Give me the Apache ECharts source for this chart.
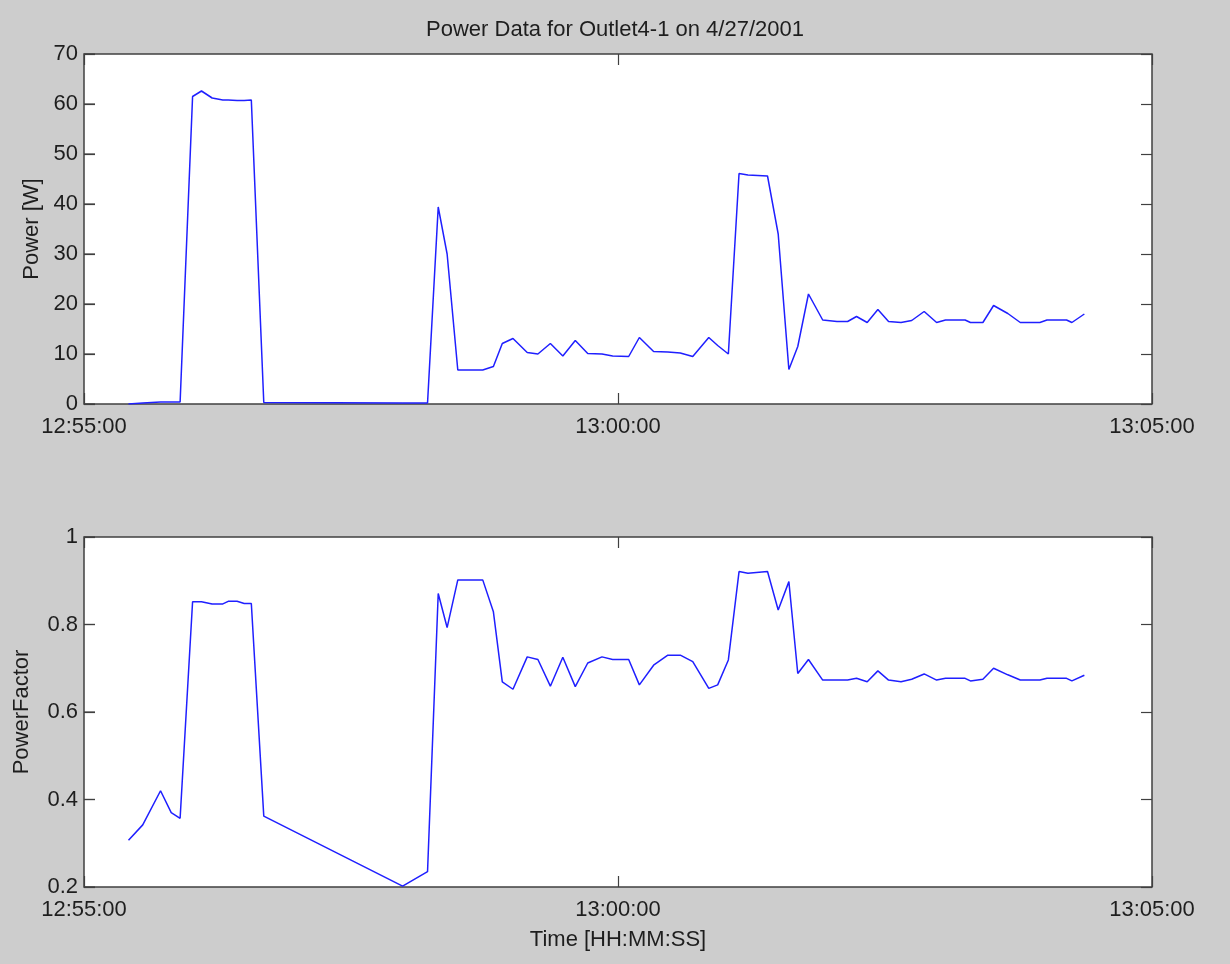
<!DOCTYPE html>
<html>
<head>
<meta charset="utf-8">
<script src="https://cdn.jsdelivr.net/npm/echarts@6/dist/echarts.min.js"></script>
<style>
html,body{margin:0;padding:0;background:#cdcdcd;}
#chart{width:1230px;height:964px;}
</style>
</head>
<body>
<div id="chart"></div>
<script>
// ---- data ----
const titleText = 'Power Data for Outlet4-1 on 4/27/2001';
const xTickLabels = ['12:55:00', '13:00:00', '13:05:00'];
const times = [
 '12:55:25','12:55:33','12:55:43','12:55:49','12:55:54','12:56:01','12:56:06','12:56:12','12:56:18','12:56:21',
 '12:56:26','12:56:30','12:56:34','12:56:41','12:57:59','12:58:13','12:58:19','12:58:24','12:58:30','12:58:44',
 '12:58:50','12:58:55','12:59:01','12:59:09','12:59:15','12:59:22','12:59:29','12:59:36','12:59:43','12:59:51',
 '12:59:57','13:00:06','13:00:12','13:00:20','13:00:28','13:00:35','13:00:42','13:00:51','13:00:56','13:01:02',
 '13:01:08','13:01:13','13:01:24','13:01:30','13:01:36','13:01:41','13:01:47','13:01:55','13:02:03','13:02:09',
 '13:02:14','13:02:20','13:02:26','13:02:32','13:02:39','13:02:45','13:02:52','13:02:59','13:03:04','13:03:15',
 '13:03:18','13:03:25','13:03:31','13:03:39','13:03:46','13:03:57','13:04:01','13:04:12','13:04:15','13:04:22'
];
const power = [
 0, 0.2, 0.4, 0.4, 0.4, 61.5, 62.6, 61.2, 60.8, 60.8,
 60.7, 60.7, 60.8, 0.3, 0.2, 0.2, 39.4, 30, 6.8, 6.8,
 7.5, 12.1, 13.1, 10.3, 10, 12.1, 9.6, 12.7, 10.1, 10,
 9.6, 9.5, 13.3, 10.5, 10.4, 10.2, 9.5, 13.3, 11.7, 10,
 46.1, 45.8, 45.6, 34, 6.9, 11.5, 22, 16.8, 16.5, 16.5,
 17.5, 16.3, 18.9, 16.5, 16.3, 16.7, 18.5, 16.3, 16.8, 16.8,
 16.3, 16.3, 19.7, 18.1, 16.3, 16.3, 16.8, 16.8, 16.3, 18
];
const powerFactor = [
 0.307, 0.342, 0.42, 0.37, 0.357, 0.852, 0.852, 0.847, 0.847, 0.853,
 0.853, 0.848, 0.848, 0.362, 0.202, 0.235, 0.871, 0.793, 0.902, 0.902,
 0.829, 0.669, 0.652, 0.726, 0.72, 0.659, 0.725, 0.658, 0.712, 0.726,
 0.72, 0.72, 0.662, 0.707, 0.73, 0.73, 0.715, 0.654, 0.662, 0.719,
 0.921, 0.917, 0.921, 0.833, 0.898, 0.688, 0.72, 0.673, 0.673, 0.673,
 0.677, 0.669, 0.694, 0.673, 0.669, 0.675, 0.687, 0.673, 0.677, 0.677,
 0.671, 0.675, 0.70, 0.685, 0.673, 0.673, 0.677, 0.677, 0.671, 0.684
];
const powerTicks = [0, 10, 20, 30, 40, 50, 60, 70];
const pfTicks = [0.2, 0.4, 0.6, 0.8, 1];

// ---- helpers ----
function toSec(t) {
  const p = t.split(':').map(Number);
  const b = xTickLabels[0].split(':').map(Number);
  return (p[0]*3600 + p[1]*60 + p[2]) - (b[0]*3600 + b[1]*60 + b[2]);
}
const xs = times.map(toSec);
const powerData = xs.map((x, i) => [x, power[i]]);
const pfData = xs.map((x, i) => [x, powerFactor[i]]);

const FONT = '"Liberation Sans", Arial, Helvetica, sans-serif';
const TXT = '#1e1e1e';
const AX = '#404040';
const FS = 22;
const TICKLEN = 11;
function tick(inside) {
  return {show: true, inside: inside, length: TICKLEN, lineStyle: {color: AX, width: 1.2}};
}

function xAxisMain(grid, withName) {
  const a = {
    type: 'value', gridIndex: grid, min: 0, max: 600, interval: 300, position: 'bottom', z: 5,
    axisLine: {show: false, onZero: false},
    axisTick: tick(true),
    axisLabel: {show: true, margin: 12, color: TXT, fontSize: FS, fontFamily: FONT,
      formatter: v => xTickLabels[Math.round(v / 300)]},
    splitLine: {show: false}
  };
  if (withName) {
    a.name = 'Time [HH:MM:SS]';
    a.nameLocation = 'middle';
    a.nameGap = 42;
    a.nameTextStyle = {color: TXT, fontSize: FS, fontFamily: FONT};
  }
  return a;
}
function xAxisTop(grid) {
  return {
    type: 'value', gridIndex: grid, min: 0, max: 600, interval: 300, position: 'top', z: 5,
    axisLine: {show: false, onZero: false},
    axisTick: tick(true),
    axisLabel: {show: false}, splitLine: {show: false}
  };
}
function yAxisMain(grid, min, max, interval, name, gap) {
  return {
    type: 'value', gridIndex: grid, min: min, max: max, interval: interval, position: 'left', z: 5,
    axisLine: {show: false, onZero: false},
    axisTick: tick(true),
    axisLabel: {show: true, margin: 6, color: TXT, fontSize: FS, fontFamily: FONT,
      formatter: v => String(Math.round(v * 10) / 10)},
    splitLine: {show: false},
    name: name, nameLocation: 'middle', nameGap: gap, nameRotate: 90,
    nameTextStyle: {color: TXT, fontSize: FS, fontFamily: FONT}
  };
}
function yAxisRight(grid, min, max, interval) {
  return {
    type: 'value', gridIndex: grid, min: min, max: max, interval: interval, position: 'right', z: 5,
    axisLine: {show: false, onZero: false},
    axisTick: tick(true),
    axisLabel: {show: false}, splitLine: {show: false}
  };
}

const chart = echarts.init(document.getElementById('chart'), null, {renderer: 'canvas'});
chart.setOption({
  animation: false,
  backgroundColor: '#cdcdcd',
  title: {
    text: titleText, left: 'center', top: 14,
    textStyle: {color: TXT, fontSize: FS, fontWeight: 'normal', fontFamily: FONT, lineHeight: 22}
  },
  grid: [
    {left: 84, top: 54, width: 1068, height: 350, show: true, z: 0, backgroundColor: '#ffffff', borderColor: AX, borderWidth: 1.5},
    {left: 84, top: 537, width: 1068, height: 350, show: true, z: 0, backgroundColor: '#ffffff', borderColor: AX, borderWidth: 1.5}
  ],
  xAxis: [xAxisMain(0, false), xAxisTop(0), xAxisMain(1, true), xAxisTop(1)],
  yAxis: [
    yAxisMain(0, powerTicks[0], powerTicks[powerTicks.length - 1], 10, 'Power [W]', 41),
    yAxisRight(0, powerTicks[0], powerTicks[powerTicks.length - 1], 10),
    yAxisMain(1, pfTicks[0], pfTicks[pfTicks.length - 1], 0.2, 'PowerFactor', 51),
    yAxisRight(1, pfTicks[0], pfTicks[pfTicks.length - 1], 0.2)
  ],
  series: [
    {type: 'line', xAxisIndex: 0, yAxisIndex: 0, data: powerData, showSymbol: false, z: 3,
     lineStyle: {color: '#1f1fff', width: 1.5}, itemStyle: {color: '#1f1fff'}},
    {type: 'line', xAxisIndex: 2, yAxisIndex: 2, data: pfData, showSymbol: false, z: 3,
     lineStyle: {color: '#1f1fff', width: 1.5}, itemStyle: {color: '#1f1fff'}}
  ]
});

// inward ticks on the left edge, positioned through the library's own axis scales
const leftTicks = [];
function addLeftTicks(xAxisIndex, yAxisIndex, values) {
  const x0 = chart.convertToPixel({xAxisIndex: xAxisIndex}, 0);
  values.forEach(v => {
    const y = chart.convertToPixel({yAxisIndex: yAxisIndex}, v);
    leftTicks.push({
      type: 'line', z: 100, silent: true,
      shape: {x1: x0, y1: y, x2: x0 + TICKLEN, y2: y},
      style: {stroke: AX, lineWidth: 1.2}
    });
  });
}
addLeftTicks(0, 0, powerTicks);
addLeftTicks(2, 2, pfTicks);
chart.setOption({graphic: leftTicks});
</script>
</body>
</html>
